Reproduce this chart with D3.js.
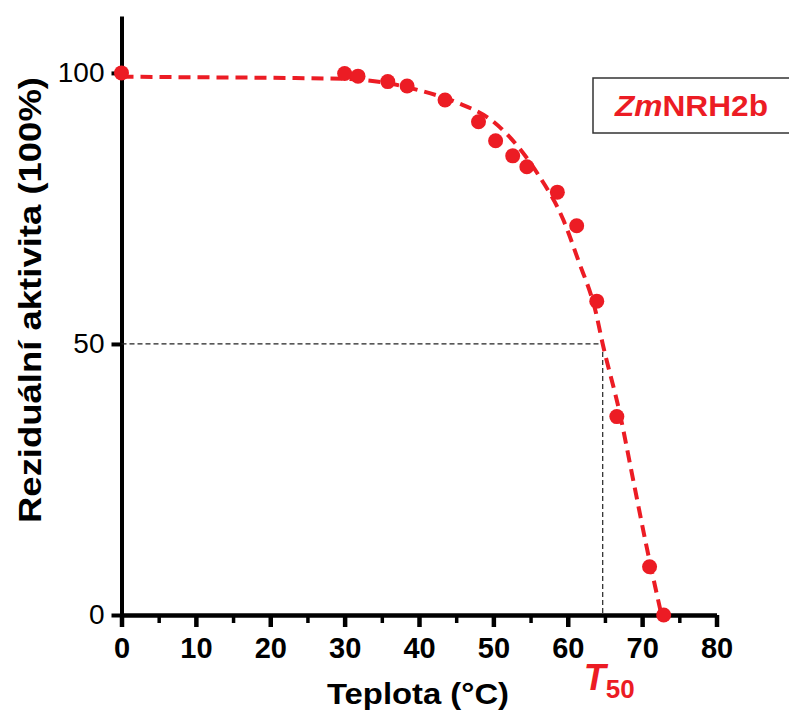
<!DOCTYPE html>
<html>
<head>
<meta charset="utf-8">
<script src="https://cdn.jsdelivr.net/npm/d3@7"></script>
<style>
  html, body { margin: 0; padding: 0; background: #fff; }
  svg { display: block; font-family: "Liberation Sans", Arial, sans-serif; }
</style>
</head>
<body>
<svg id="chart" width="789" height="710"></svg>
<script>
// Measured residual activity after heat treatment
const temps    = [0, 30, 31.8, 35.8, 38.4, 43.5, 48.0, 50.3, 52.6, 54.5, 58.6, 61.2, 63.9, 66.6, 71.0, 72.9];
const activity = [100, 99.9, 99.4, 98.4, 97.6, 95.0, 91.0, 87.5, 84.7, 82.7, 78.0, 71.8, 57.9, 36.6, 8.9, 0];

// Fitted inactivation curve
const fitTemp     = [0, 10, 20, 30, 35, 40, 45, 50, 53.5, 56, 59.4, 61.4, 63.8, 64.7, 67, 68.8, 70.6, 72.6];
const fitActivity = [99.3, 99.2, 99.1, 98.9, 98.3, 96.8, 94.6, 91.0, 86.1, 81.3, 72.9, 65.5, 55.7, 50.0, 37.2, 24.9, 12.6, 0];

// Half-inactivation point
const t50 = 64.7;
const halfActivity = 50;

const xTicks = [0, 10, 20, 30, 40, 50, 60, 70, 80];
const xMinorTicks = [5, 15, 25, 35, 45, 55, 65, 75];
const yTicks = [0, 50, 100];

const seriesName = "NRH2b";
const seriesPrefix = "Zm";

const red = "#ec1c24";

const svg = d3.select("#chart");

const x = d3.scaleLinear().domain([0, 80]).range([121.5, 716.5]);
const y = d3.scaleLinear().domain([0, 110.5]).range([615, 16]);

// Axes
const xMinor = svg.append("g")
  .attr("transform", `translate(0,${y(0)})`)
  .call(d3.axisBottom(x).tickValues(xMinorTicks).tickSize(8).tickFormat(""));
xMinor.select(".domain").remove();
xMinor.selectAll(".tick line").attr("stroke", "#000").attr("stroke-width", 3.5);

const xAxis = svg.append("g")
  .attr("transform", `translate(0,${y(0)})`)
  .call(d3.axisBottom(x).tickValues(xTicks).tickSizeInner(12).tickSizeOuter(0).tickPadding(10));
xAxis.select(".domain").attr("stroke", "#000").attr("stroke-width", 4.5);
xAxis.selectAll(".tick line").attr("stroke", "#000").attr("stroke-width", 4.5);
xAxis.selectAll(".tick text")
  .attr("fill", "#000")
  .style("font-size", "29px")
  .style("font-weight", "bold")
  .style("font-family", "'Liberation Sans', Arial, sans-serif");

const yAxis = svg.append("g")
  .attr("transform", `translate(${x(0)},0)`)
  .call(d3.axisLeft(y).tickValues(yTicks).tickSizeInner(10).tickSizeOuter(0).tickPadding(7));
yAxis.select(".domain").attr("stroke", "#000").attr("stroke-width", 4);
yAxis.selectAll(".tick line").attr("stroke", "#000").attr("stroke-width", 4);
yAxis.selectAll(".tick text")
  .attr("fill", "#000")
  .style("font-size", "28px")
  .style("font-family", "'Liberation Sans', Arial, sans-serif");

// T50 guide lines
svg.append("line")
  .attr("x1", x(0)).attr("x2", x(t50))
  .attr("y1", y(halfActivity)).attr("y2", y(halfActivity))
  .attr("stroke", "#222").attr("stroke-width", 1.2)
  .attr("stroke-dasharray", "5,3");
svg.append("line")
  .attr("x1", x(t50)).attr("x2", x(t50))
  .attr("y1", y(halfActivity)).attr("y2", y(0))
  .attr("stroke", "#222").attr("stroke-width", 1.2)
  .attr("stroke-dasharray", "5,3");

// Fitted curve
const fitData = fitTemp.map((t, i) => [t, fitActivity[i]]);
svg.append("path")
  .datum(fitData)
  .attr("fill", "none")
  .attr("stroke", red)
  .attr("stroke-width", 4)
  .attr("stroke-dasharray", "12,7")
  .attr("d", d3.line().x(d => x(d[0])).y(d => y(d[1])).curve(d3.curveMonotoneX));

// Data points
svg.append("g")
  .selectAll("circle")
  .data(temps.map((t, i) => [t, activity[i]]))
  .join("circle")
  .attr("cx", d => x(d[0]))
  .attr("cy", d => y(d[1]))
  .attr("r", 7.5)
  .attr("fill", red);

// Axis titles (wide lettering, stretched to a fixed length)
svg.append("text")
  .attr("x", 327).attr("y", 704)
  .attr("textLength", 182)
  .attr("lengthAdjust", "spacingAndGlyphs")
  .style("font-size", "30px")
  .style("font-weight", "bold")
  .attr("fill", "#000")
  .text("Teplota (°C)");

svg.append("text")
  .attr("transform", "translate(41,523) rotate(-90)")
  .attr("textLength", 446)
  .attr("lengthAdjust", "spacingAndGlyphs")
  .style("font-size", "31px")
  .style("font-weight", "bold")
  .attr("fill", "#000")
  .text("Reziduální aktivita (100%)");

// T50 label
const t50Label = svg.append("text")
  .attr("x", x(t50) - 19).attr("y", 690)
  .attr("fill", red)
  .style("font-weight", "bold");
t50Label.append("tspan").style("font-style", "italic").style("font-size", "36px").text("T");
t50Label.append("tspan").attr("dy", 8).style("font-size", "26px").text("50");

// Legend box
svg.append("rect")
  .attr("x", 593).attr("y", 78)
  .attr("width", 200).attr("height", 55)
  .attr("fill", "#fff")
  .attr("stroke", "#333").attr("stroke-width", 1.5);
const legend = svg.append("text")
  .attr("x", 615).attr("y", 116)
  .attr("textLength", 153)
  .attr("lengthAdjust", "spacingAndGlyphs")
  .attr("fill", red)
  .style("font-size", "30px")
  .style("font-weight", "bold");
legend.append("tspan").style("font-style", "italic").text(seriesPrefix);
legend.append("tspan").text(seriesName);
</script>
</body>
</html>
